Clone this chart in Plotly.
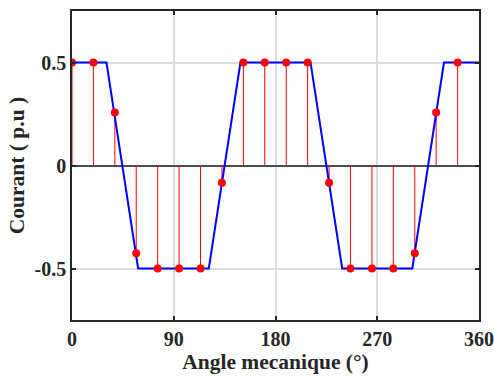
import plotly.graph_objects as go

# Trapezoidal current waveform (blue line) breakpoints
wave_angle = [0, 30.5, 58.5, 121, 149, 211, 239, 301, 329, 360]
wave_current = [0.5, 0.5, -0.5, -0.5, 0.5, 0.5, -0.5, -0.5, 0.5, 0.5]

# Sampled points (red stems)
sample_angle = [0, 18.95, 37.9, 56.8, 75.8, 94.7, 113.7, 132.6, 151.6, 170.5,
                189.5, 208.4, 227.4, 246.3, 265.3, 284.2, 303.2, 322.1, 341.1]
sample_current = [0.5, 0.5, 0.257, -0.426, -0.5, -0.5, -0.5, -0.084, 0.5, 0.5,
                  0.5, 0.5, -0.084, -0.5, -0.5, -0.5, -0.426, 0.257, 0.5]

x_ticks = [0, 90, 180, 270, 360]
y_ticks = [-0.5, 0, 0.5]
y_tick_labels = ["-0.5", "0", "0.5"]

stem_x, stem_y = [], []
for a, c in zip(sample_angle, sample_current):
    stem_x += [a, a, None]
    stem_y += [0, c, None]

fig = go.Figure()
fig.add_trace(go.Scatter(x=stem_x, y=stem_y, mode="lines",
                         line=dict(color="#ff0000", width=1), hoverinfo="skip"))
fig.add_trace(go.Scatter(x=wave_angle, y=wave_current, mode="lines",
                         line=dict(color="#0000ff", width=2)))
fig.add_trace(go.Scatter(x=sample_angle, y=sample_current, mode="markers",
                         marker=dict(color="#ff0000", size=8)))

font_family = "Liberation Serif, Times New Roman, serif"
axis_common = dict(
    showline=True, mirror="ticks", linecolor="#262626", linewidth=1.5,
    ticks="inside", ticklen=4, tickwidth=1.5, tickcolor="#262626",
    showgrid=True, gridcolor="#dcdcdc", gridwidth=2, automargin=False,
    tickfont=dict(family=font_family, size=20, color="#262626", weight="bold"),
)

fig.update_layout(
    width=494, height=376,
    margin=dict(l=72, r=15, t=11, b=56),
    paper_bgcolor="white", plot_bgcolor="white",
    showlegend=False,
    xaxis=dict(range=[0, 360], tickvals=x_ticks, zeroline=False,
               title=dict(text="Angle mecanique (°)", standoff=1,
                          font=dict(family=font_family, size=21.5, color="#262626", weight="bold")),
               **axis_common),
    yaxis=dict(range=[-0.75, 0.75], tickvals=y_ticks, ticktext=y_tick_labels,
               zeroline=True, zerolinecolor="#4d4d4d", zerolinewidth=1.5,
               title=dict(text="Courant ( p.u )", standoff=4,
                          font=dict(family=font_family, size=21.5, color="#262626", weight="bold")),
               **axis_common),
)

fig.write_html("out.html", config={"displayModeBar": False},
               post_script="document.body.style.margin='0';")
